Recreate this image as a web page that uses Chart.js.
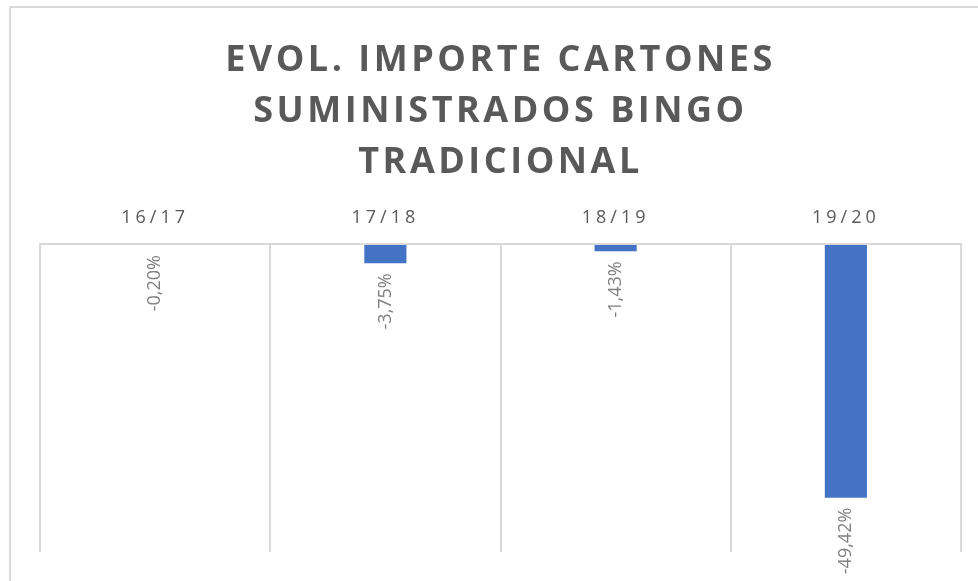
<!DOCTYPE html>
<html>
<head>
<meta charset="utf-8">
<script src="https://cdn.jsdelivr.net/npm/chart.js@4.4.1/dist/chart.umd.min.js"></script>
<style>
    html, body { margin: 0; padding: 0; background: #fff; overflow: hidden; }
    .wrap { position: relative; width: 978px; height: 581px; }
    .frame {
        position: absolute; left: 9px; top: 6px;
        width: 1000px; height: 620px;
        border: 2px solid #d9d9d9;
        box-sizing: border-box;
    }
    .chart-box { position: absolute; left: 0; top: 0; width: 978px; height: 581px; }
</style>
</head>
<body>
<div class="wrap">
    <div class="frame"></div>
    <div class="chart-box"><canvas id="evolChart"></canvas></div>
</div>
<script>
// datos
const categories = ['16/17', '17/18', '18/19', '19/20'];
const variation = [-0.20, -3.75, -1.43, -49.42];
const yMin = -60;
const yMax = 0;
const titleLines = ['EVOL. IMPORTE CARTONES', 'SUMINISTRADOS BINGO', 'TRADICIONAL'];

const fontFamily = '"Open Sans", "Liberation Sans", sans-serif';

// espaciado de letras del título (las etiquetas del eje van después de las barras)
const letterSpacingPlugin = {
    id: 'letterSpacing',
    beforeDraw(chart) {
        chart.ctx.letterSpacing = '3.5px';
    }
};

// etiquetas de datos giradas debajo de cada barra
const barLabelsPlugin = {
    id: 'barLabels',
    afterDatasetsDraw(chart) {
        const ctx = chart.ctx;
        const meta = chart.getDatasetMeta(0);
        ctx.save();
        ctx.letterSpacing = '0px';
        ctx.font = '18px ' + fontFamily;
        ctx.fillStyle = '#7f7f7f';
        ctx.textAlign = 'right';
        ctx.textBaseline = 'middle';
        meta.data.forEach((bar, i) => {
            const text = variation[i].toFixed(2).replace('.', ',') + '%';
            ctx.save();
            ctx.translate(bar.x, bar.y + 10);
            ctx.rotate(-Math.PI / 2);
            ctx.fillText(text, 0, 0);
            ctx.restore();
        });
        ctx.restore();
        // categorías del eje x
        ctx.letterSpacing = '4px';
    }
};

const chartCtx = document.getElementById('evolChart');

new Chart(chartCtx, {
    type: 'bar',
    data: {
        labels: categories,
        datasets: [{
            data: variation,
            backgroundColor: '#4472c4',
            borderWidth: 0,
            barPercentage: 0.183,
            categoryPercentage: 1
        }]
    },
    options: {
        responsive: true,
        maintainAspectRatio: false,
        animation: false,
        layout: {
            padding: { top: 0, left: 40, right: 17, bottom: 29 }
        },
        plugins: {
            legend: { display: false },
            tooltip: { enabled: false },
            title: {
                display: true,
                text: titleLines,
                color: '#595959',
                font: { family: fontFamily, size: 36, weight: 'bold', lineHeight: 51 / 36 },
                padding: { top: 35, bottom: 0 }
            }
        },
        scales: {
            x: {
                position: 'top',
                afterFit(scale) { scale.height = 244 - 35 - 153; },
                grid: {
                    display: true,
                    offset: true,
                    drawTicks: false,
                    color: '#d9d9d9',
                    lineWidth: 2
                },
                border: { display: true, color: '#d9d9d9', width: 2, z: 1 },
                ticks: {
                    z: 1,
                    color: '#595959',
                    padding: 15,
                    font: { family: fontFamily, size: 18 }
                }
            },
            y: {
                display: false,
                min: yMin,
                max: yMax
            }
        }
    },
    plugins: [letterSpacingPlugin, barLabelsPlugin]
});
</script>
</body>
</html>
